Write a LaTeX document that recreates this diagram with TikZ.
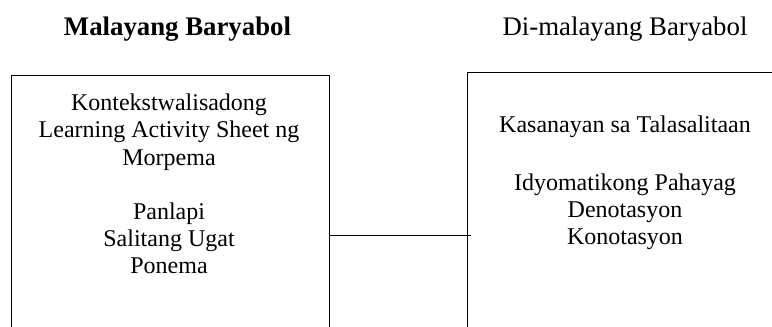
\documentclass[tikz,border=0pt]{standalone}
\usepackage{fontspec}
\setmainfont{Liberation Serif}
\usetikzlibrary{positioning}

\tikzset{
	baryabox/.style={draw, line width=0.65pt, rectangle, inner sep=0pt, anchor=north west},
	baryatext/.style={align=center, inner sep=0pt, font=\fontsize{12}{13.6}\selectfont},
	baryatitle/.style={inner sep=0pt, anchor=base, font=\fontsize{13.4}{15}\selectfont},
}

\begin{document}
\begin{tikzpicture}[x=1pt,y=1pt]
	\useasboundingbox (0,0) rectangle (386,-163.5);
	%titles
		\node[baryatitle, font=\fontsize{13.4}{15}\selectfont\bfseries] (maltitle) at (88.75,-17.5) {Malayang Baryabol};
		\node[baryatitle] (dititle) at (312.5,-17.5) {Di-malayang Baryabol};
	%boxes (run past the bottom edge)
		\node[baryabox, minimum width=159, minimum height=160.3] (malbox) at (5.35,-37.35) {};
		\node[baryabox, minimum width=158.3, minimum height=163.3] (dibox) at (233.35,-35.85) {};
	%box contents
		\node[baryatext, anchor=north] (maltext) at (84.5,-46.8) {Kontekstwalisadong\\Learning Activity Sheet ng\\Morpema\\[13.6pt]Panlapi\\Salitang Ugat\\Ponema};
		\node[baryatext, anchor=north] (ditext) at (312.5,-57.6) {Kasanayan sa Talasalitaan\\[15.4pt]Idyomatikong Pahayag\\Denotasyon\\Konotasyon};
	%connector
		\draw[line width=0.65pt] (malbox.east) -- ([xshift=2pt]dibox.west);
\end{tikzpicture}
\end{document}
